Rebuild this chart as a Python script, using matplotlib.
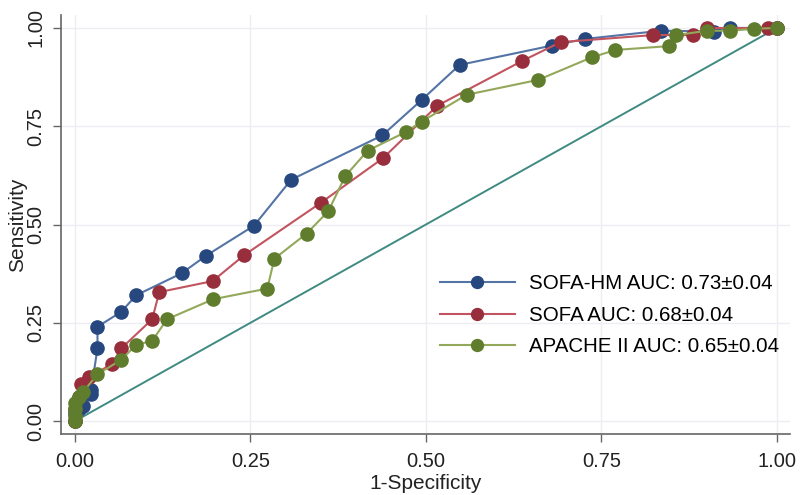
import matplotlib
matplotlib.use("Agg")
import matplotlib.pyplot as plt

plt.rcParams['font.family'] = ['Liberation Sans', 'DejaVu Sans']

# SOFA-HM
hm_x = [0.0, 0.0, 0.005, 0.011, 0.023, 0.023, 0.032, 0.032, 0.066, 0.087, 0.152, 0.187,
        0.255, 0.308, 0.438, 0.494, 0.548, 0.679, 0.726, 0.835, 0.910, 0.933, 1.0]
hm_y = [0.0, 0.02, 0.03, 0.039, 0.070, 0.080, 0.185, 0.240, 0.278, 0.320, 0.376, 0.421,
        0.497, 0.614, 0.727, 0.817, 0.906, 0.955, 0.972, 0.993, 0.991, 1.0, 1.0]
# SOFA
so_x = [0.0, 0.0, 0.005, 0.009, 0.020, 0.053, 0.066, 0.110, 0.120, 0.196, 0.241,
        0.350, 0.439, 0.516, 0.637, 0.692, 0.824, 0.880, 0.900, 0.987, 1.0]
so_y = [0.0, 0.03, 0.06, 0.094, 0.111, 0.146, 0.185, 0.259, 0.328, 0.356, 0.422,
        0.555, 0.669, 0.802, 0.916, 0.964, 0.982, 0.982, 1.0, 1.0, 1.0]
# APACHE II
ap_x = [0.0, 0.0, 0.0, 0.0, 0.005, 0.011, 0.032, 0.066, 0.087, 0.110, 0.131, 0.197,
        0.274, 0.284, 0.330, 0.361, 0.385, 0.417, 0.471, 0.494, 0.558, 0.660, 0.736,
        0.770, 0.847, 0.857, 0.901, 0.934, 0.968, 1.0]
ap_y = [0.0, 0.013, 0.03, 0.045, 0.06, 0.073, 0.119, 0.156, 0.194, 0.204, 0.259, 0.310,
        0.337, 0.413, 0.477, 0.534, 0.623, 0.688, 0.735, 0.762, 0.830, 0.868, 0.925,
        0.944, 0.954, 0.982, 0.993, 0.993, 0.998, 1.0]

labels = ['SOFA-HM AUC: 0.73\u00b10.04', 'SOFA AUC: 0.68\u00b10.04', 'APACHE II AUC: 0.65\u00b10.04']
ticks = [0.0, 0.25, 0.5, 0.75, 1.0]
tick_labels = ['0.00', '0.25', '0.50', '0.75', '1.00']

fig = plt.figure(figsize=(8, 4.95), dpi=100)
ax = fig.add_axes([0.07625, 0.1232, 0.911, 0.8465])

ax.plot([0, 1], [0, 1], color='#3f8a82', lw=1.4, zorder=2)

series = [
    (hm_x, hm_y, '#5474a6', '#27487f'),
    (so_x, so_y, '#c2545f', '#982e3c'),
    (ap_x, ap_y, '#93a85a', '#5f7d2c'),
]
handles = []
for (xs, ys, lc, mc), lab in zip(series, labels):
    h, = ax.plot(xs, ys, color=lc, lw=1.5, marker='o', markersize=9.5,
                 markerfacecolor=mc, markeredgecolor=mc, label=lab, zorder=3)
    handles.append(h)

ax.set_xlim(-0.020, 1.0185)
ax.set_ylim(-0.033, 1.033)
ax.set_xticks(ticks)
ax.set_xticklabels(tick_labels)
ax.set_yticks(ticks)
ax.set_yticklabels(tick_labels, rotation=90, va='center')
ax.grid(True, color='#eceef3', lw=1.0)
ax.set_axisbelow(True)
for s in ['top', 'right']:
    ax.spines[s].set_visible(False)
for s in ['left', 'bottom']:
    ax.spines[s].set_color('#666666')
    ax.spines[s].set_linewidth(1.2)
ax.tick_params(axis='both', direction='out', length=6, width=1, color='#666666',
               labelsize=14.5, labelcolor='#222222', pad=5)
ax.tick_params(axis='x', pad=7)
ax.set_xlabel('1-Specificity', fontsize=15, color='#222222', labelpad=2)
ax.set_ylabel('Sensitivity', fontsize=15, color='#222222', labelpad=0)

leg = ax.legend(handles=handles, loc='upper left', bbox_to_anchor=(0.494, 0.425),
                frameon=False, fontsize=14.8, handlelength=3.65, handletextpad=0.7,
                labelspacing=0.6, markerscale=0.9)

fig.savefig('out.png', dpi=100)
